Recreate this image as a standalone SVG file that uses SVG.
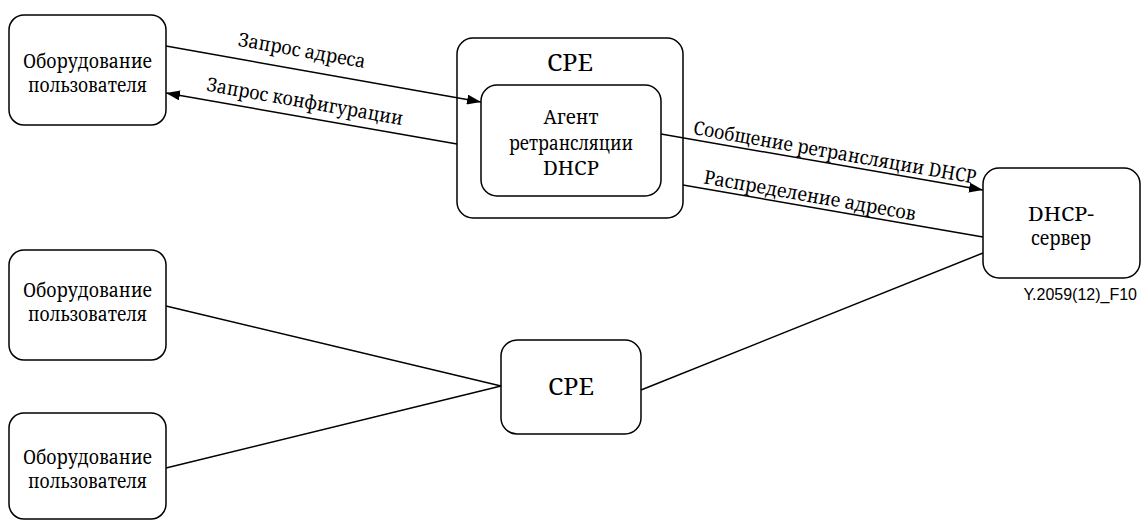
<svg xmlns="http://www.w3.org/2000/svg" width="1142" height="520" viewBox="0 0 1142 520">
  <style>
    .box { fill: #ffffff; stroke: #000000; stroke-width: 1.5; }
    .lbl { font-family: 'Noto Serif', 'DejaVu Serif', serif; font-size: 19px; fill: #000000; text-anchor: middle; }
    .big { font-size: 23px; }
    .link { fill: none; stroke: #000000; stroke-width: 1.5; }
    .fig { font-family: 'Liberation Sans', Arial, sans-serif; font-size: 16px; fill: #000000; text-anchor: end; }
  </style>
  <defs>
    <marker id="arrow" viewBox="0 0 14 10" refX="14" refY="5" markerWidth="14" markerHeight="10" markerUnits="userSpaceOnUse" orient="auto">
      <path d="M0,0 L14,5 L0,10 z" fill="#000000"/>
    </marker>
  </defs>
  <rect width="1142" height="520" fill="#ffffff"/>

  <g id="ue-top">
    <rect class="box" x="9" y="15" width="157" height="110" rx="15"/>
    <text class="lbl" x="87.5" y="68" textLength="129" lengthAdjust="spacingAndGlyphs">Оборудование</text>
    <text class="lbl" x="87.5" y="92" textLength="119" lengthAdjust="spacingAndGlyphs">пользователя</text>
  </g>

  <g id="cpe-relay">
    <rect class="box" x="457" y="38" width="226" height="180" rx="16"/>
    <text class="lbl big" x="570" y="71" textLength="46" lengthAdjust="spacingAndGlyphs">CPE</text>
  </g>

  <g id="relay-agent">
    <rect class="box" x="481" y="85" width="180" height="111" rx="16"/>
    <text class="lbl" x="571" y="124" textLength="55" lengthAdjust="spacingAndGlyphs">Агент</text>
    <text class="lbl" x="571" y="150" textLength="124" lengthAdjust="spacingAndGlyphs">ретрансляции</text>
    <text class="lbl" x="571" y="175" textLength="56" lengthAdjust="spacingAndGlyphs">DHCP</text>
  </g>

  <g id="dhcp-server">
    <rect class="box" x="983" y="168" width="157" height="110" rx="16"/>
    <text class="lbl" x="1061" y="221" textLength="66" lengthAdjust="spacingAndGlyphs">DHCP-</text>
    <text class="lbl" x="1061" y="245" textLength="60" lengthAdjust="spacingAndGlyphs">сервер</text>
  </g>

  <g id="ue-mid">
    <rect class="box" x="9" y="250" width="157" height="110" rx="15"/>
    <text class="lbl" x="87.5" y="297" textLength="129" lengthAdjust="spacingAndGlyphs">Оборудование</text>
    <text class="lbl" x="87.5" y="321" textLength="119" lengthAdjust="spacingAndGlyphs">пользователя</text>
  </g>

  <g id="ue-bottom">
    <rect class="box" x="9" y="413" width="157" height="106" rx="15"/>
    <text class="lbl" x="87.5" y="464" textLength="129" lengthAdjust="spacingAndGlyphs">Оборудование</text>
    <text class="lbl" x="87.5" y="488" textLength="119" lengthAdjust="spacingAndGlyphs">пользователя</text>
  </g>

  <g id="cpe-plain">
    <rect class="box" x="501" y="340" width="140" height="94" rx="16"/>
    <text class="lbl big" x="571" y="395" textLength="46" lengthAdjust="spacingAndGlyphs">CPE</text>
  </g>

  <g id="connectors">
    <line class="link" x1="166" y1="46" x2="481" y2="102" marker-end="url(#arrow)"/>
    <line class="link" x1="457" y1="144" x2="166" y2="93" marker-end="url(#arrow)"/>
    <line class="link" x1="661" y1="134" x2="983" y2="190" marker-end="url(#arrow)"/>
    <line class="link" x1="983" y1="237" x2="683" y2="185"/>
    <line class="link" x1="983" y1="253" x2="641" y2="390"/>
    <line class="link" x1="166" y1="306" x2="501" y2="386"/>
    <line class="link" x1="166" y1="468" x2="501" y2="386"/>

    <text class="lbl" transform="translate(302,50) rotate(10)" y="7" textLength="129" lengthAdjust="spacingAndGlyphs">Запрос адреса</text>
    <text class="lbl" transform="translate(305,101) rotate(10)" y="7" textLength="199" lengthAdjust="spacingAndGlyphs">Запрос конфигурации</text>
    <text class="lbl" transform="translate(835,152) rotate(10)" y="7" textLength="287" lengthAdjust="spacingAndGlyphs">Сообщение ретрансляции DHCP</text>
    <text class="lbl" transform="translate(810,195) rotate(10)" y="7" textLength="215" lengthAdjust="spacingAndGlyphs">Распределение адресов</text>
  </g>

  <text class="fig" x="1137" y="300">Y.2059(12)_F10</text>
</svg>
